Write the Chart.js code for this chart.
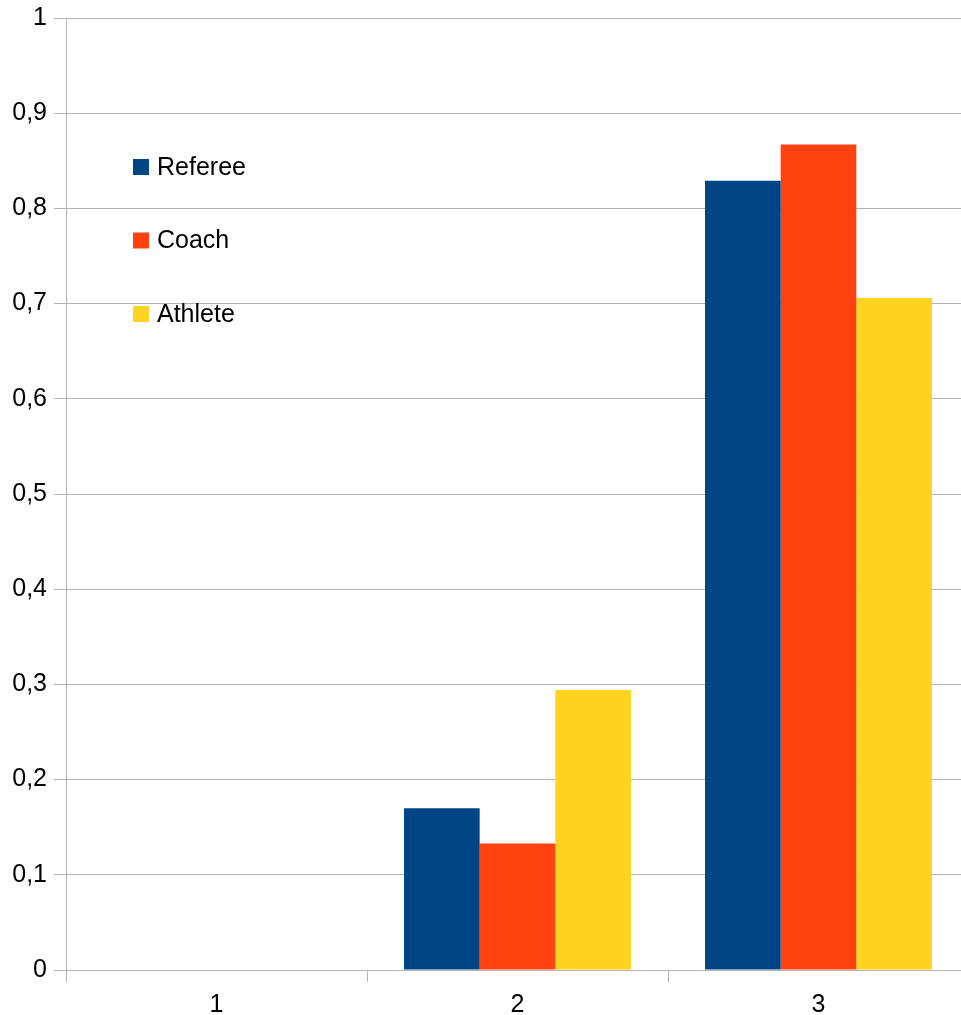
<!DOCTYPE html>
<html>
<head>
<meta charset="utf-8">
<script src="https://cdn.jsdelivr.net/npm/chart.js@4/dist/chart.umd.min.js"></script>
<style>
  html, body { margin: 0; padding: 0; background: #fff; overflow: hidden; }
  #wrap { width: 970px; height: 1015px; }
</style>
</head>
<body>
<div id="wrap"><canvas id="chart" width="970" height="1015"></canvas></div>
<script>
const categories = ['1', '2', '3'];
const referee = [0, 0.170, 0.829];
const coach = [0, 0.133, 0.867];
const athlete = [0, 0.294, 0.706];
const yTickLabels = ['0', '0,1', '0,2', '0,3', '0,4', '0,5', '0,6', '0,7', '0,8', '0,9', '1'];

Chart.defaults.font.family = '"Liberation Sans", Arial, sans-serif';
Chart.defaults.font.size = 25;
Chart.defaults.color = '#000';

// legend drawn inside the plot, top-left, like the original
const insideLegend = {
  id: 'insideLegend',
  afterDraw(chart) {
    const ctx = chart.ctx;
    ctx.save();
    ctx.font = '25px "Liberation Sans", Arial, sans-serif';
    ctx.textBaseline = 'middle';
    ctx.textAlign = 'left';
    chart.data.datasets.forEach((ds, i) => {
      const y = 167 + i * 73.5;
      ctx.fillStyle = ds.backgroundColor;
      ctx.fillRect(133, y - 8, 16, 16);
      ctx.fillStyle = '#000';
      ctx.fillText(ds.label, 157, y + 1);
    });
    ctx.restore();
  }
};

new Chart(document.getElementById('chart'), {
  type: 'bar',
  data: {
    labels: categories,
    datasets: [
      { label: 'Referee', data: referee, backgroundColor: '#004586' },
      { label: 'Coach', data: coach, backgroundColor: '#ff420e' },
      { label: 'Athlete', data: athlete, backgroundColor: '#ffd320' }
    ]
  },
  options: {
    responsive: false,
    animation: false,
    devicePixelRatio: 1,
    categoryPercentage: 0.754,
    barPercentage: 1,
    layout: { padding: { top: 18, right: 1, left: 0, bottom: 0 } },
    plugins: { legend: { display: false }, tooltip: { enabled: false } },
    scales: {
      x: {
        grid: { drawOnChartArea: false, drawTicks: true, tickLength: 12, color: '#b3b3b3', offset: true },
        border: { color: '#b3b3b3' },
        ticks: { padding: 8, maxRotation: 0 },
        afterFit(scale) { scale.height = 45; scale.paddingLeft = 0; scale.paddingRight = 0; }
      },
      y: {
        min: 0,
        max: 1,
        grid: { color: '#b3b3b3', tickLength: 12 },
        border: { color: '#b3b3b3' },
        ticks: {
          stepSize: 0.1,
          padding: 7,
          callback: (v, i) => yTickLabels[i]
        },
        afterFit(scale) { scale.width = 66; scale.paddingTop = 0; scale.paddingBottom = 0; }
      }
    }
  },
  plugins: [insideLegend]
});
</script>
</body>
</html>
